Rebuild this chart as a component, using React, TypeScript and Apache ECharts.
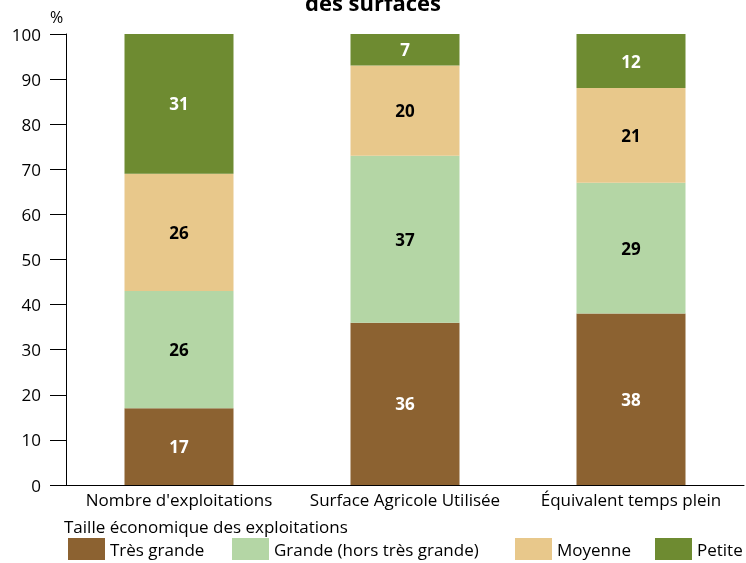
import React, { useEffect, useRef } from "react";
import * as echarts from "echarts";

const categories = ["Nombre d'exploitations", "Surface Agricole Utilisée", "Équivalent temps plein"];
const seriesNames = ["Très grande", "Grande (hors très grande)", "Moyenne", "Petite"];
const tresGrande = [17, 36, 38];
const grande = [26, 37, 29];
const moyenne = [26, 20, 21];
const petite = [31, 7, 12];
const yTicks = [0, 10, 20, 30, 40, 50, 60, 70, 80, 90, 100];

const colors = ["#8c6231", "#b4d6a5", "#e8c88b", "#6e8b31"];
const labelColors = ["#ffffff", "#000000", "#000000", "#ffffff"];
const legendLefts = [68, 232, 515, 655];
const FONT = "'Open Sans', 'Noto Sans', sans-serif";

export default function App() {
  const ref = useRef<HTMLDivElement>(null);
  useEffect(() => {
    if (!ref.current) return;
    const chart = echarts.init(ref.current, null, { renderer: "svg" });
    const values = [tresGrande, grande, moyenne, petite];
    chart.setOption({
      animation: false,
      textStyle: { fontFamily: FONT },
      title: {
        text: "des surfaces",
        left: "center",
        top: -14,
        textStyle: { fontFamily: FONT, fontWeight: "bold", fontSize: 22, color: "#000" },
      },
      grid: { left: 66, top: 34, width: 678, height: 451, containLabel: false },
      legend: seriesNames.map((n, i) => ({
        data: [n],
        left: legendLefts[i],
        top: 538,
        itemWidth: 37,
        itemHeight: 22,
        itemGap: 0,
        icon: "rect",
        textStyle: { fontFamily: FONT, fontSize: 17, color: "#000" },
        padding: 0,
      })),
      xAxis: {
        type: "category",
        data: categories,
        axisLine: { show: true, lineStyle: { color: "#000", width: 1 } },
        axisTick: { show: false },
        axisLabel: { color: "#000", fontSize: 17, fontFamily: FONT, margin: 6, interval: 0 },
      },
      yAxis: {
        type: "value",
        min: yTicks[0],
        max: yTicks[yTicks.length - 1],
        interval: 10,
        splitLine: { show: false },
        axisLine: { show: true, lineStyle: { color: "#000", width: 1 } },
        axisTick: { show: true, inside: false, length: 16, lineStyle: { color: "#000" } },
        axisLabel: { color: "#000", fontSize: 17, fontFamily: FONT, margin: 25 },
      },
      graphic: [
        { type: "text", left: 50, top: 9, style: { text: "%", fontSize: 16, fontFamily: FONT, fill: "#000" } },
        {
          type: "text",
          left: 64,
          top: 518,
          style: { text: "Taille économique des exploitations", fontSize: 17, fontFamily: FONT, fill: "#000" },
        },
      ],
      series: seriesNames.map((n, i) => ({
        name: n,
        type: "bar",
        stack: "total",
        barWidth: 109,
        data: values[i],
        itemStyle: { color: colors[i] },
        label: {
          show: true,
          position: "inside",
          color: labelColors[i],
          fontWeight: "bold",
          fontSize: 17,
          fontFamily: FONT,
        },
      })),
    });
    return () => chart.dispose();
  }, []);
  return <div ref={ref} style={{ position: "fixed", left: 0, top: 0, width: 746, height: 563 }} />;
}
